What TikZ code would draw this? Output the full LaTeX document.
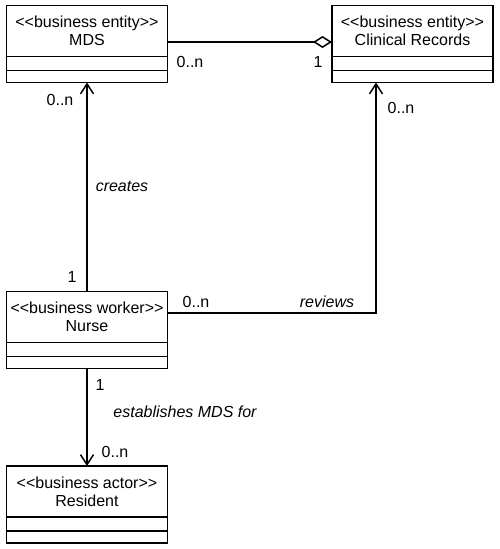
\documentclass[tikz,border=0pt]{standalone}
\usepackage{fontspec}
\newfontfamily\umlfont{Liberation Sans}
\usetikzlibrary{arrows.meta, positioning, calc}
\newcommand{\stereo}[1]{<\kern0pt<#1>\kern0pt>}

\begin{document}
\begin{tikzpicture}[x=1pt, y=-1pt,
    classhead/.style={draw, line width=1.5pt, outer sep=0pt, inner sep=0pt, minimum width=161pt, minimum height=51pt, align=center, font=\umlfont\fontsize{16}{18}\selectfont},
    classpart/.style={draw, line width=1.5pt, outer sep=0pt, inner sep=0pt, minimum width=161pt, minimum height=#1},
    mult/.style={inner sep=0pt, font=\umlfont\fontsize{16}{18}\selectfont},
    role/.style={inner sep=0pt, font=\umlfont\itshape\fontsize{16}{18}\selectfont},
    link/.style={line width=1.5pt},
    navarrow/.style={link, -{Straight Barb[length=10pt, width=13pt]}},
    aggregation/.style={link, {Diamond[open, length=19pt, width=12pt]}-}]
        \useasboundingbox (0,0) rectangle (500,549);

        % Define Classes (header + two compartments)
        \node [classhead, anchor=north west] (mds) at (6.5,5.5) {\stereo{business entity}\\MDS};
        \node [classpart=14pt, below=0pt of mds] (mds-attr) {};
        \node [classpart=12pt, below=0pt of mds-attr] (mds-ops) {};

        \node [classhead, anchor=north west] (records) at (332,5.5) {\stereo{business entity}\\Clinical Records};
        \node [classpart=14pt, below=0pt of records] (records-attr) {};
        \node [classpart=12pt, below=0pt of records-attr] (records-ops) {};

        \node [classhead, anchor=north west] (nurse) at (6.5,291.5) {\stereo{business worker}\\Nurse};
        \node [classpart=14pt, below=0pt of nurse] (nurse-attr) {};
        \node [classpart=12pt, below=0pt of nurse-attr] (nurse-ops) {};

        \node [classhead, anchor=north west] (resident) at (6.5,466) {\stereo{business actor}\\Resident};
        \node [classpart=14pt, below=0pt of resident] (resident-attr) {};
        \node [classpart=12pt, below=0pt of resident-attr] (resident-ops) {};

        % Draw Associations
        \draw [aggregation] ([yshift=-11pt]records.west) -- ([yshift=-11pt]mds.east);
        \draw [navarrow] (nurse.north) -- (mds-ops.south);
        \draw [navarrow] ([yshift=4pt]nurse.east) -| ([xshift=-36.5pt]records-ops.south);
        \draw [navarrow] (nurse-ops.south) -- (resident.north);

        % Add Multiplicities and Role Names
        \node [mult] (mds-agg-mult) at (190,62) {0..n};
        \node [mult] (records-agg-mult) at (318,62) {1};
        \node [mult] (mds-create-mult) at (60,100) {0..n};
        \node [role] (creates-label) at (122,186) {creates};
        \node [mult] (nurse-create-mult) at (72,277) {1};
        \node [mult] (records-review-mult) at (401,108) {0..n};
        \node [mult] (nurse-review-mult) at (196,302) {0..n};
        \node [role] (reviews-label) at (327,302) {reviews};
        \node [mult] (nurse-resident-mult) at (100,385) {1};
        \node [role] (establishes-label) at (185,412) {establishes MDS for};
        \node [mult] (resident-mult) at (115,452) {0..n};
    \end{tikzpicture}
\end{document}
